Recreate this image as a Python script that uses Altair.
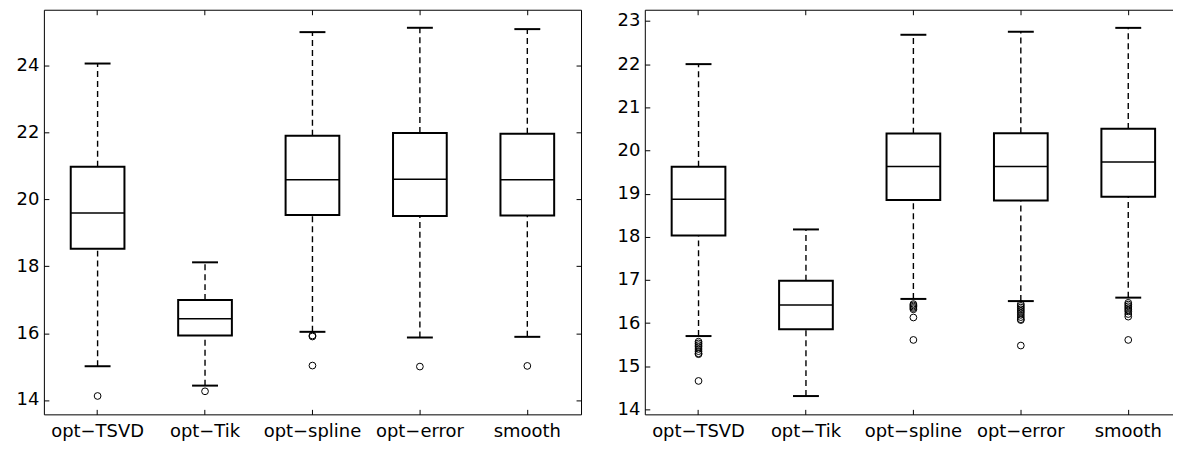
import altair as alt
import pandas as pd

methods = ["opt−TSVD", "opt−Tik", "opt−spline", "opt−error", "smooth"]

# ---- left panel (box statistics) ----
left_lower = [15.01, 14.43, 16.04, 15.87, 15.89]
left_q1 = [18.53, 15.93, 19.54, 19.51, 19.52]
left_median = [19.60, 16.43, 20.59, 20.61, 20.59]
left_q3 = [20.98, 16.99, 21.91, 21.99, 21.97]
left_upper = [24.07, 18.12, 25.01, 25.14, 25.10]
left_out_method = ["opt−TSVD", "opt−Tik", "opt−spline", "opt−spline",
                   "opt−spline", "opt−error", "smooth"]
left_out_value = [14.12, 14.26, 15.93, 15.90, 15.03, 15.00, 15.02]
left_ticks = [14, 16, 18, 20, 22, 24]
left_domain = [13.57, 25.68]

# ---- right panel ----
right_lower = [15.70, 14.31, 16.56, 16.51, 16.59]
right_q1 = [18.03, 15.86, 18.85, 18.84, 18.93]
right_median = [18.87, 16.42, 19.63, 19.63, 19.73]
right_q3 = [19.62, 16.98, 20.39, 20.40, 20.50]
right_upper = [22.00, 18.17, 22.68, 22.75, 22.84]
right_out_method = (["opt−TSVD"] * 9 + ["opt−spline"] * 7 +
                    ["opt−error"] * 11 + ["smooth"] * 9)
right_out_value = [15.57, 15.53, 15.49, 15.45, 15.40, 15.35, 15.30, 15.28, 14.66,
                   16.44, 16.41, 16.38, 16.35, 16.32, 16.13, 15.61,
                   16.44, 16.40, 16.36, 16.32, 16.28, 16.24, 16.19, 16.14, 16.09, 16.07, 15.48,
                   16.47, 16.43, 16.39, 16.35, 16.31, 16.27, 16.21, 16.15, 15.61]
right_ticks = [14, 15, 16, 17, 18, 19, 20, 21, 22, 23]
right_domain = [13.886, 23.26]

FONT = "DejaVu Sans"


def panel(lower, q1, med, q3, upper, out_m, out_v, ticks, domain):
    stats = pd.DataFrame({"method": methods, "lower": lower, "q1": q1,
                          "median": med, "q3": q3, "upper": upper})
    outl = pd.DataFrame({"method": out_m, "value": out_v})

    xs = alt.Scale(domain=methods, paddingInner=0, paddingOuter=0)
    ys = alt.Scale(domain=domain, nice=False, zero=False)

    ax_bottom = alt.Axis(orient="bottom", offset=-5, tickSize=5, labelPadding=8,
                         labelAngle=0, domain=False, grid=False, minExtent=0, title=None)
    ax_top = alt.Axis(orient="top", offset=-5, tickSize=5, labels=False,
                      domain=False, grid=False, minExtent=0, title=None)
    ax_left = alt.Axis(orient="left", values=ticks, format="d", offset=-5, tickSize=5,
                       labelPadding=5, domain=False, grid=False, minExtent=0, title=None)
    ax_right = alt.Axis(orient="right", values=ticks, offset=-5, tickSize=5, labels=False,
                        domain=False, grid=False, minExtent=0, title=None)

    base = alt.Chart(stats)
    x_plain = alt.X("method:N", scale=xs, sort=methods, axis=None)

    w_up = base.mark_rule(color="black", strokeWidth=1.4, strokeDash=[6, 4]).encode(
        x=alt.X("method:N", scale=xs, sort=methods, axis=ax_bottom),
        y=alt.Y("q3:Q", scale=ys, axis=ax_left),
        y2="upper:Q")
    w_lo = base.mark_rule(color="black", strokeWidth=1.4, strokeDash=[6, 4]).encode(
        x=x_plain, y=alt.Y("lower:Q", scale=ys, axis=None), y2="q1:Q")
    box = base.mark_bar(width=alt.RelativeBandSize(0.5), fill="white",
                        stroke="black", strokeWidth=2).encode(
        x=alt.X("method:N", scale=xs, sort=methods, axis=ax_top),
        y=alt.Y("q1:Q", scale=ys, axis=ax_right), y2="q3:Q")
    median = base.mark_tick(color="black", size=54, thickness=1.5, opacity=1).encode(
        x=x_plain, y=alt.Y("median:Q", scale=ys, axis=None))
    cap_up = base.mark_tick(color="black", size=26, thickness=2, opacity=1).encode(
        x=x_plain, y=alt.Y("upper:Q", scale=ys, axis=None))
    cap_lo = base.mark_tick(color="black", size=26, thickness=2, opacity=1).encode(
        x=x_plain, y=alt.Y("lower:Q", scale=ys, axis=None))
    pts = alt.Chart(outl).mark_point(shape="circle", filled=False, size=46,
                                     color="black", strokeWidth=1, opacity=1).encode(
        x=x_plain, y=alt.Y("value:Q", scale=ys, axis=None))

    return alt.layer(w_up, w_lo, box, median, cap_up, cap_lo, pts).resolve_axis(
        x="independent", y="independent").properties(width=539, height=406)


left = panel(left_lower, left_q1, left_median, left_q3, left_upper,
             left_out_method, left_out_value, left_ticks, left_domain)
right = panel(right_lower, right_q1, right_median, right_q3, right_upper,
              right_out_method, right_out_value, right_ticks, right_domain)

chart = alt.hconcat(left, right, spacing=64, bounds="flush").properties(
    padding={"left": 7, "top": 0, "right": -10, "bottom": 0}, background="white"
).configure_view(stroke="black", strokeWidth=1).configure_axis(
    labelFont=FONT, labelFontSize=18, labelColor="black",
    tickColor="black", tickWidth=1)

chart.save("out.html", embed_options={"renderer": "svg", "actions": False})
